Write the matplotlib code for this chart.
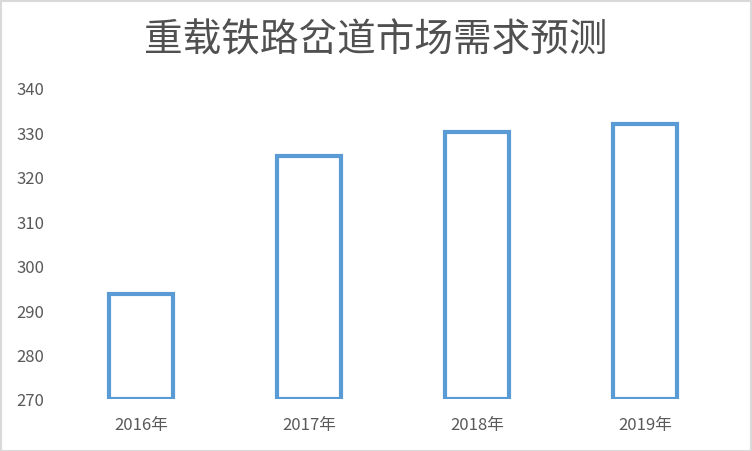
import matplotlib
matplotlib.use("Agg")
import matplotlib.pyplot as plt
from matplotlib.patches import Rectangle

categories = ["2016年", "2017年", "2018年", "2019年"]
values = [293.7, 324.8, 330, 331.8]
yticks = [270, 280, 290, 300, 310, 320, 330, 340]
title = "重载铁路岔道市场需求预测"

plt.rcParams['font.family'] = ['Noto Sans CJK SC', 'DejaVu Sans']

fig = plt.figure(figsize=(7.52, 4.52), dpi=100)
ax = fig.add_axes([57/752, 1 - 400/452, (729-57)/752, (400-89)/452])

x = range(len(categories))
base = yticks[0]
ax.bar(x, [v - base for v in values], bottom=base, width=0.38,
       facecolor='white', edgecolor='#5B9BD5', linewidth=3.0)

ax.set_xlim(-0.5, len(categories) - 0.5)
ax.set_ylim(yticks[0], yticks[-1])
ax.set_yticks(yticks)
ax.set_xticks(list(x))
ax.set_xticklabels(categories)
for s in ax.spines.values():
    s.set_visible(False)
ax.tick_params(axis='both', length=0, colors='#595959', labelsize=12)
ax.tick_params(axis='y', pad=9)
ax.tick_params(axis='x', pad=12)

fig.text(376/752, 1 - 40/452, title, ha='center', va='center',
         fontsize=27.8, color='#505050')

fig.patches.append(Rectangle((0.5/752, 0.5/452), 750/752, 450/452,
                             transform=fig.transFigure, fill=False,
                             edgecolor='#D9D9D9', linewidth=1.5))

fig.savefig("out.png", dpi=100, facecolor='white')
